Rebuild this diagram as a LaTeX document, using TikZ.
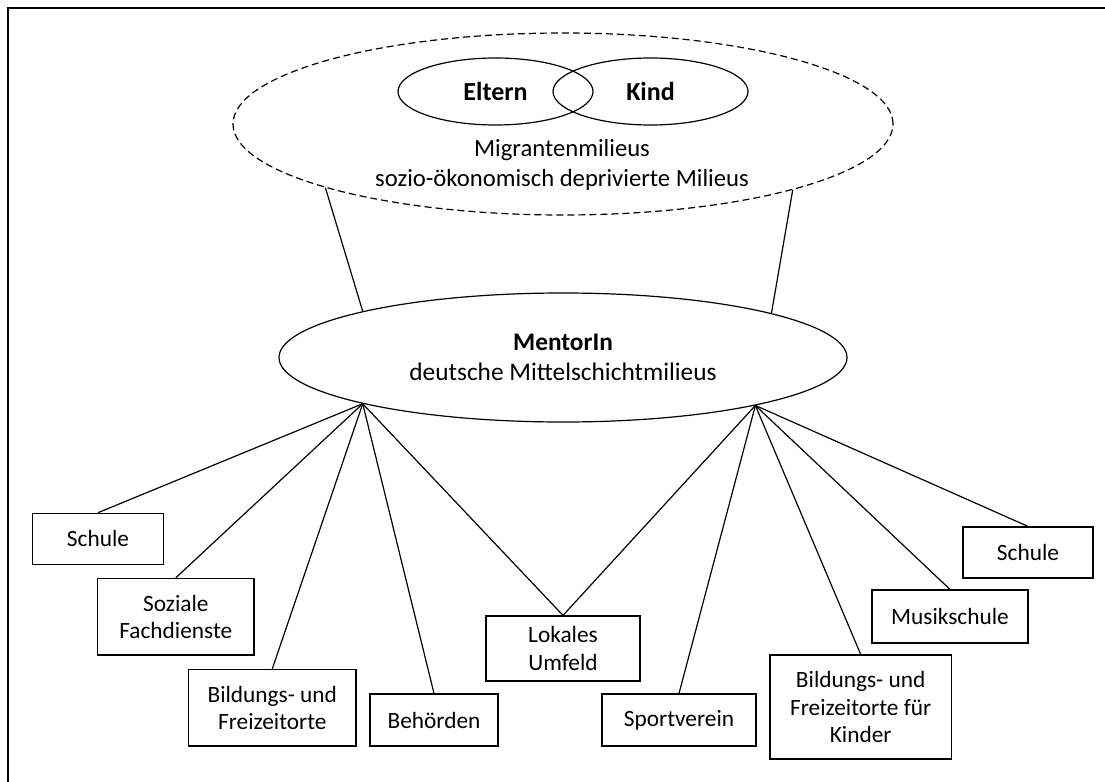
\documentclass[tikz,border=0pt]{standalone}
\usepackage{fontspec}
\setmainfont{Carlito}
\usetikzlibrary{shapes.geometric}
\begin{document}
\begin{tikzpicture}[x=0.75pt,y=-0.75pt,
  line width=0.9pt,
  ell/.style={draw, ellipse, inner sep=0pt, align=center, font=\fontsize{19}{22.5}\selectfont},
  box/.style={draw, rectangle, inner sep=0pt, align=center, font=\fontsize{17.5}{20.5}\selectfont},
  link/.style={draw, line width=0.9pt},
  frame/.style={draw, line width=1.5pt},
]
\useasboundingbox (0,0) rectangle (1105,781);
\clip (0,0) rectangle (1105,781);
\coordinate (fbl) at (7.5,820);
\coordinate (ftl) at (7.5,8.5);
\coordinate (ftr) at (1140,8.5);
\path[frame] (fbl) -- (ftl) -- (ftr);

% top milieu
\node[ell, dash pattern=on 5.25pt off 3pt, minimum width=495pt, minimum height=136.5pt] (milieu) at (563,124) {};
\node[ell, minimum width=146.25pt, minimum height=50.25pt, font=\fontsize{19.5}{22}\selectfont\bfseries] (eltern) at (495.5,91.5) {Eltern};
\node[ell, minimum width=146.25pt, minimum height=50.25pt, font=\fontsize{19.5}{22}\selectfont\bfseries] (kind) at (650.5,91.5) {Kind};
\node[align=center, inner sep=0pt, font=\fontsize{18.5}{22.5}\selectfont] (mtext) at (562,165) {Migrantenmilieus\\sozio-ökonomisch deprivierte Milieus};

% mentor
\node[ell, minimum width=426pt, minimum height=96.75pt] (mentor) at (563,357.5) {\textbf{MentorIn}\\deutsche Mittelschichtmilieus};

\path[link] (milieu.195.4) -- (mentor.167.25);
\path[link] (milieu.344.25) -- (mentor.12.6);

\coordinate (hubL) at (mentor.193.3);
\coordinate (hubR) at (mentor.346.7);

% boxes
\node[box, minimum width=98pt, minimum height=38.25pt] (schuleL) at (98,538.8) {Schule};
\node[box, minimum width=117.2pt, minimum height=57.5pt] (soziale) at (175.8,616.7) {Soziale\\Fachdienste};
\node[box, minimum width=125.6pt, minimum height=57.5pt] (bildung) at (272.3,707.7) {Bildungs- und\\Freizeitorte};
\node[box, minimum width=96pt, minimum height=39pt] (behoerden) at (434,720) {Behörden};
\node[box, minimum width=115.5pt, minimum height=48.75pt] (lokales) at (563,648.5) {Lokales\\Umfeld};
\node[box, minimum width=115.5pt, minimum height=39pt] (sport) at (679,720) {Sportverein};
\node[box, minimum width=136.1pt, minimum height=78pt] (bildkinder) at (860.7,707) {Bildungs- und\\Freizeitorte für\\Kinder};
\node[box, minimum width=117pt, minimum height=39.75pt] (musik) at (950,616.5) {Musikschule};
\node[box, minimum width=97.5pt, minimum height=38.25pt] (schuleR) at (1028,552.5) {Schule};

% connectors left hub
\path[link] (hubL) -- (schuleL.north);
\path[link] (hubL) -- (soziale.north);
\path[link] (hubL) -- (bildung.north);
\path[link] (hubL) -- (behoerden.north);
\path[link] (hubL) -- (lokales.north);
% connectors right hub
\path[link] (hubR) -- (lokales.north);
\path[link] (hubR) -- (sport.north);
\path[link] (hubR) -- (bildkinder.north);
\path[link] (hubR) -- (musik.north);
\path[link] (hubR) -- (schuleR.north);
\end{tikzpicture}
\end{document}
